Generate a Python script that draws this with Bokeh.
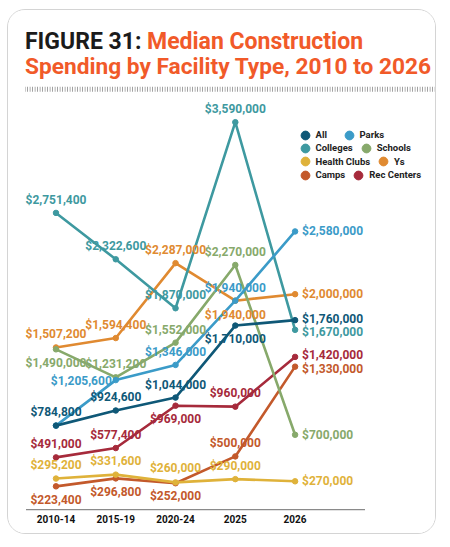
from bokeh.plotting import figure
from bokeh.models import ColumnDataSource, Range1d, Label, Legend, LegendItem, BoxAnnotation, FixedTicker
from bokeh.core.properties import value
from bokeh.embed import file_html
from bokeh.resources import INLINE

# ---------------- data ----------------
periods = ["2010-14", "2015-19", "2020-24", "2025", "2026"]
series_names = ["All", "Parks", "Colleges", "Schools", "Health Clubs", "Ys", "Camps", "Rec Centers"]
all_vals = [784800, 924600, 1044000, 1710000, 1760000]
parks_vals = [784800, 1205600, 1346000, 1940000, 2580000]
colleges_vals = [2751400, 2322600, 1870000, 3590000, 1670000]
schools_vals = [1490000, 1231200, 1552000, 2270000, 700000]
health_clubs_vals = [295200, 331600, 260000, 290000, 270000]
ys_vals = [1507200, 1594400, 2287000, 1940000, 2000000]
camps_vals = [223400, 296800, 252000, 500000, 1330000]
rec_centers_vals = [491000, 577400, 969000, 960000, 1420000]

values_by_series = {
    "All": all_vals,
    "Parks": parks_vals,
    "Colleges": colleges_vals,
    "Schools": schools_vals,
    "Health Clubs": health_clubs_vals,
    "Ys": ys_vals,
    "Camps": camps_vals,
    "Rec Centers": rec_centers_vals,
}

# ---------------- styles ----------------
colors = {
    "All": "#0f5877",
    "Parks": "#3b9bc8",
    "Colleges": "#3e99a0",
    "Schools": "#87a96b",
    "Health Clubs": "#dfb23a",
    "Ys": "#e08a31",
    "Camps": "#c3592b",
    "Rec Centers": "#a62a3b",
}

# per point label placement: (dx px, dy px (down), align) ; None = no label
C, L, R = "center", "left", "right"
label_pos = {
    "All": [(0, -14, C), (0, -13, C), (0, -13, C), (0, 13, C), (7, -1, L)],
    "Parks": [None, (-4, 1, R), (0, -13, C), (0, -13, C), (7, 0, L)],
    "Colleges": [(0, -13, C), (0, -13.5, C), (0, -13, C), (0, -13.5, C), (7, 2.5, L)],
    "Schools": [(0, 14, C), (0, -13.5, C), (0, -13, C), (0, -13, C), (7, 0, L)],
    "Health Clubs": [(0, -13.5, C), (0, -13.5, C), (0, -14.5, C), (0, -13.5, C), (7, 0, L)],
    "Ys": [(0, -13, C), (0, -13, C), (0, -13.5, C), (0, 14, C), (7, 0, L)],
    "Camps": [(0, 13.5, C), (0, 13.5, C), (0, 13, C), (0, -13.5, C), (7, 2, L)],
    "Rec Centers": [(0, -13.5, C), (0, -13.5, C), (0, 13, C), (0, -13.5, C), (7, -1.5, L)],
}

draw_order = ["Rec Centers", "Camps", "Health Clubs", "Ys", "Schools", "Colleges", "Parks", "All"]
legend_rows = [["All", "Parks"], ["Colleges", "Schools"], ["Health Clubs", "Ys"], ["Camps", "Rec Centers"]]

FONT = "Roboto"

p = figure(
    width=429, height=525,
    output_backend="svg", toolbar_location=None,
    x_range=Range1d(-0.7947, 6.3828), y_range=Range1d(0, 4.6228e6),
    y_axis_location=None,
    min_border_left=0, min_border_right=0, min_border_top=0, min_border_bottom=25,
)
p.styles = {"margin-left": "7px", "margin-top": "9px",
            "border": "1.5px solid #d4d4d4", "border-radius": "18px", "overflow": "hidden"}
p.outline_line_color = None
p.xgrid.visible = False
p.ygrid.visible = False
p.background_fill_color = "white"
p.border_fill_color = "white"

xs = list(range(len(periods)))
renderers = {}
for name in draw_order:
    vals = values_by_series[name]
    col = colors[name]
    src = ColumnDataSource(dict(x=xs, y=vals))
    p.line("x", "y", source=src, line_color=col, line_width=2.6, line_join="round", line_cap="round")
    renderers[name] = p.scatter("x", "y", source=src, size=5.5, fill_color=col, line_color=col)

for name in draw_order:
    vals = values_by_series[name]
    col = colors[name]
    lx, ly, lt, dx, dy, al = [], [], [], [], [], []
    for i, v in enumerate(vals):
        pos = label_pos[name][i]
        if pos is None:
            continue
        lx.append(xs[i]); ly.append(v); lt.append(f"${v:,}")
        dx.append(pos[0]); dy.append(pos[1]); al.append(pos[2])
    lsrc = ColumnDataSource(dict(x=lx, y=ly, text=lt, dx=dx, dy=dy, al=al))
    p.text("x", "y", text="text", source=lsrc, x_offset="dx", y_offset="dy",
           text_align="al", text_baseline="middle",
           text_font=value(FONT), text_font_style="bold", text_font_size="12px",
           text_color=col)

# x axis
p.xaxis.ticker = FixedTicker(ticks=xs)
p.xaxis.major_label_overrides = {i: t for i, t in enumerate(periods)}
p.xaxis.major_tick_line_color = None
p.xaxis.major_tick_out = 0
p.xaxis.major_tick_in = 0
p.xaxis.minor_tick_line_color = None
p.xaxis.axis_line_color = None
p.xaxis.major_label_text_font = FONT
p.xaxis.major_label_text_font_style = "bold"
p.xaxis.major_label_text_font_size = "10px"
p.xaxis.major_label_text_color = "#111111"
p.xaxis.major_label_standoff = 4

screen = dict(left_units="screen", right_units="screen", bottom_units="screen", top_units="screen")

# baseline of the category axis (shorter than the frame, as in the original)
p.add_layout(BoxAnnotation(left=17.5, right=356.5, bottom=0, top=1.6, fill_color="#8a8a8a",
                           fill_alpha=1, line_alpha=0, **screen))

# legends, one per row (flowing rows)
row_centers = [375.5, 362.2, 348.8, 335.5]
for row, cy in zip(legend_rows, row_centers):
    items = [LegendItem(label=n, renderers=[renderers[n]]) for n in row]
    leg = Legend(items=items, orientation="horizontal", location=(285.5, cy - 11),
                 glyph_width=22, glyph_height=22, label_standoff=0, spacing=2,
                 padding=0, margin=0, label_height=12,
                 border_line_color=None, background_fill_alpha=0,
                 label_text_font=FONT, label_text_font_style="bold",
                 label_text_font_size="9.5px", label_text_color="#222222")
    p.add_layout(leg)

# title
title_kw = dict(x_units="screen", y_units="screen", text_font=FONT, text_font_style="bold",
                text_baseline="alphabetic")
p.add_layout(Label(x=16.5, y=468.7, text="FIGURE 31:", text_color="#1b1b1b",
                   text_font_size="23px", **title_kw))
p.add_layout(Label(x=138.5, y=468.7, text="Median Construction", text_color="#f15a29",
                   text_font_size="23px", **title_kw))
p.add_layout(Label(x=16.5, y=444.3, text="Spending by Facility Type, 2010 to 2026", text_color="#f15a29",
                   text_font_size="22.7px", **title_kw))

# hatched rule under title
p.add_layout(BoxAnnotation(left=16.5, right=426.5, bottom=418.8, top=423.8,
                           fill_alpha=0, line_alpha=0,
                           hatch_pattern="vertical_line", hatch_scale=2.5,
                           hatch_color="#8c8c8c", hatch_weight=1, **screen))

open("out.html", "w").write(file_html(p, INLINE))
